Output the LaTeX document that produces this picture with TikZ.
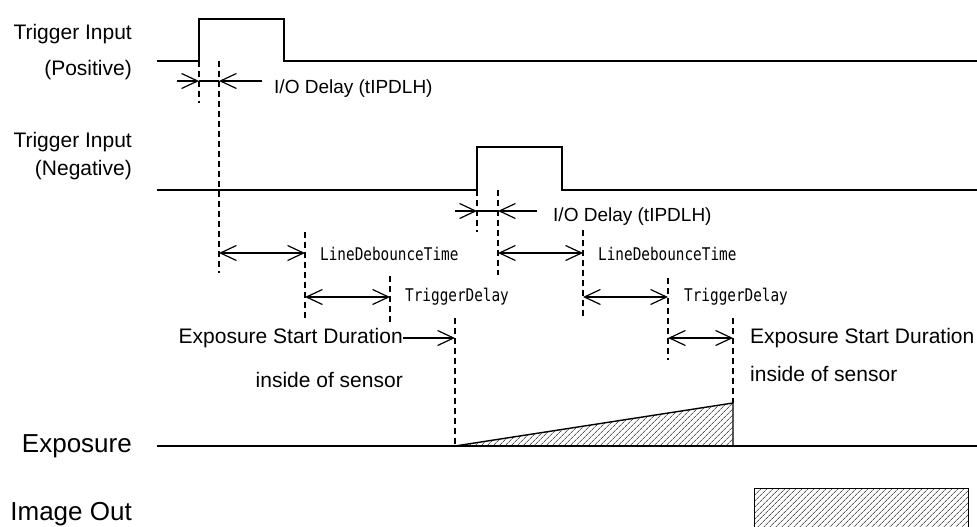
\documentclass[tikz,border=0pt]{standalone}
\usepackage{fontspec}
\setmainfont{Liberation Sans}
\newfontfamily\gothic[FakeStretch=0.82]{DejaVu Sans Mono}
\usetikzlibrary{arrows.meta,patterns.meta}

\begin{document}
\begin{tikzpicture}[
 x=1pt,y=-1pt,
 sig/.style={line width=1.4pt},
 guide/.style={line width=1.2pt,dash pattern=on 6pt off 4pt},
 tick/.style={line width=1.2pt},
 dimarr/.style={{Straight Barb[length=16pt,width=15pt]}-{Straight Barb[length=16pt,width=15pt]},line width=1.2pt},
 onearr/.style={-{Straight Barb[length=16pt,width=15pt]},line width=1.2pt},
 hatch/.style={pattern={Lines[angle=45,distance=4pt,line width=0.6pt]}},
 siglbl/.style={anchor=base east,inner sep=0pt,font=\fontsize{21}{25}\selectfont},
 biglbl/.style={anchor=base east,inner sep=0pt,font=\fontsize{26}{30}\selectfont},
 note/.style={anchor=base west,inner sep=0pt,font=\fontsize{19}{23}\selectfont},
 esnote/.style={inner sep=0pt,font=\fontsize{21}{25}\selectfont},
 param/.style={anchor=base west,inner sep=0pt,font=\gothic\fontsize{17.5}{20}\selectfont}
]
\useasboundingbox (0,0) rectangle (977,527);
\foreach \n/\x in {p0/199,p1/219,p2/305,p3/390,p4/455,n0/477,n1/498,n2/583,n3/668,n4/733}
  \coordinate (\n) at (\x,0);
\foreach \r/\y in {io/81,ioB/211,ld/253,td/297,es/338}
  \coordinate (\r) at (0,\y);
\coordinate (ioL) at (177,81);
\coordinate (ioR) at (262,81);
\coordinate (ioBL) at (455,211);
\coordinate (ioBR) at (537,211);

\node[siglbl] (posA) at (132,40) {Trigger Input};
\node[siglbl] (posB) at (132,75) {(Positive)};
\node[siglbl] (negA) at (132,147) {Trigger Input};
\node[siglbl] (negB) at (132,175) {(Negative)};
\node[biglbl] (expo) at (132,452) {Exposure};
\node[biglbl] (imgout) at (132,520) {Image Out};

\draw[sig] (157,61) -| (199,19) -| (284,61) -- (977,61);
\draw[sig] (157,190) -| (477,147) -| (562,190) -- (977,190);
\draw[sig] (157,446) -- (977,446);
\fill[hatch] (455,446) -- (733,403) -- (733,446) -- cycle;
\draw[sig] (455,446) -- (733,403) -- (733,446);
\fill[hatch] (754,488) rectangle (968,527);
\draw[line width=1pt] (754,527) |- (968,488) -- (968,527);

\foreach \x/\a/\b in {199/61/103,219/61/273,305/232/318,390/276/322,455/318/446,477/190/232,498/190/275,583/230/318,668/278/360,733/318/403}
  \draw[guide] (\x,\a) -- (\x,\b);

\draw[onearr] (ioL) -- (p0 |- io);
\draw[tick] (p0 |- io) -- (p1 |- io);
\draw[onearr] (ioR) -- (p1 |- io);
\node[note] (ioA) at (274,93) {I/O Delay (tIPDLH)};
\draw[onearr] (ioBL) -- (n0 |- ioB);
\draw[tick] (n0 |- ioB) -- (n1 |- ioB);
\draw[onearr] (ioBR) -- (n1 |- ioB);
\node[note] (ioB2) at (553,221) {I/O Delay (tIPDLH)};

\draw[dimarr] (p1 |- ld) -- (p2 |- ld);
\node[param] (ldA) at (320,260) {LineDebounceTime};
\draw[dimarr] (n1 |- ld) -- (n2 |- ld);
\node[param] (ldB) at (598,260) {LineDebounceTime};
\draw[dimarr] (p2 |- td) -- (p3 |- td);
\node[param] (tdA) at (405,301) {TriggerDelay};
\draw[dimarr] (n2 |- td) -- (n3 |- td);
\node[param] (tdB) at (684,301) {TriggerDelay};

\node[esnote,anchor=base east] (esA) at (403,343) {Exposure Start Duration};
\node[esnote,anchor=base east] (esA2) at (403,387) {inside of sensor};
\draw[onearr] (esA.east |- es) -- (p4 |- es);
\draw[dimarr] (n3 |- es) -- (n4 |- es);
\node[esnote,anchor=base west] (esB) at (750,343) {Exposure Start Duration};
\node[esnote,anchor=base west] (esB2) at (750,381) {inside of sensor};
\end{tikzpicture}
\end{document}
